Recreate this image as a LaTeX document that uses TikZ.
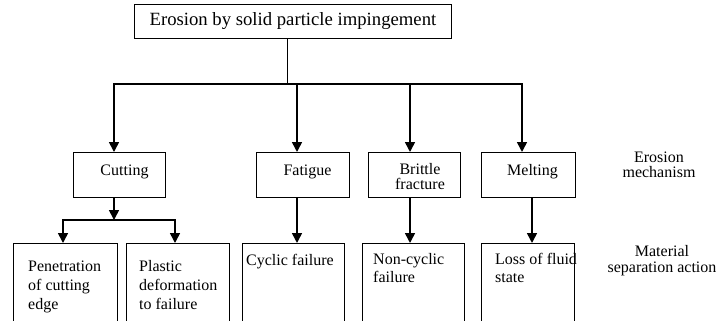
\documentclass[tikz,border=0pt]{standalone}
\usepackage{fontspec}
\setmainfont{Liberation Serif}
\usetikzlibrary{arrows.meta}
\begin{document}
\begin{tikzpicture}[x=1pt,y=-1pt,
  box/.style={draw,line width=0.9pt,inner sep=0pt,anchor=north west},
  lbl/.style={inner sep=0pt,font=\fontsize{16}{18.5}\selectfont},
  arr/.style={line width=1.6pt,-{Triangle[length=10pt,width=10pt]}},
  conn/.style={line width=1.4pt,line cap=rect}]
\useasboundingbox (0,0) rectangle (718,321);
\fill[white] (0,0) rectangle (718,321);
% top box
\node[box,minimum width=317pt,minimum height=34pt,font=\fontsize{18.7}{20}\selectfont] (top) at (134,4) {Erosion by solid particle impingement};
% mechanism boxes
\node[box,minimum width=92pt,minimum height=45pt] (cut) at (73,152) {};
\node[box,minimum width=93pt,minimum height=45pt] (fat) at (256,152) {};
\node[box,minimum width=92pt,minimum height=45pt] (bri) at (368,152) {};
\node[box,minimum width=94pt,minimum height=45pt] (mel) at (481,152) {};
% action boxes (run off the bottom edge)
\node[box,minimum width=104pt,minimum height=100pt] (pen) at (13,243) {};
\node[box,minimum width=103pt,minimum height=100pt] (pla) at (126,243) {};
\node[box,minimum width=102pt,minimum height=100pt] (cyc) at (242,243) {};
\node[box,minimum width=102pt,minimum height=100pt] (non) at (362,243) {};
\node[box,minimum width=93pt,minimum height=100pt] (los) at (481,243) {};
% texts (multi-line nodes: base = baseline of last line)
\node[lbl,anchor=base] (cutT) at (124.5,175) {Cutting};
\node[lbl,anchor=base] (fatT) at (307.5,175) {Fatigue};
\node[lbl,anchor=base,align=center,font=\fontsize{16}{15}\selectfont] (briT) at (420,189) {Brittle\\fracture};
\node[lbl,anchor=base] (melT) at (532.5,175) {Melting};
\node[lbl,anchor=base west,align=left,font=\fontsize{16}{19}\selectfont] (penT) at (28,309) {Penetration\\of cutting\\edge};
\node[lbl,anchor=base west,align=left,font=\fontsize{16}{19}\selectfont] (plaT) at (139,309) {Plastic\\deformation\\to failure};
\node[lbl,anchor=base west] (cycT) at (246,265) {Cyclic failure};
\node[lbl,anchor=base west,align=left,font=\fontsize{16}{18.5}\selectfont] (nonT) at (373,282.5) {Non-cyclic\\failure};
\node[lbl,anchor=base west,align=left,font=\fontsize{16}{18.5}\selectfont] (losT) at (495,282.5) {Loss of fluid\\state};
\node[lbl,anchor=base,align=center,font=\fontsize{16}{15}\selectfont] (mechL) at (659,177) {Erosion\\mechanism};
\node[lbl,anchor=base,align=center,font=\fontsize{16}{16.5}\selectfont] (sepL) at (662,272.5) {Material\\separation action};
% connectors from the top box
\coordinate (j) at (287,84);
\coordinate (hl) at (114,84);
\coordinate (h2) at (297,84);
\coordinate (h3) at (410,84);
\coordinate (hr) at (522,84);
\draw[line width=0.9pt] (top.south -| j) -- (j);
\draw[conn] (hl) -- (hr);
\draw[arr] (hl) -- (hl |- cut.north);
\draw[arr] (h2) -- (h2 |- fat.north);
\draw[arr] (h3) -- (h3 |- bri.north);
\draw[arr] (hr) -- (hr |- mel.north);
% cutting branch
\coordinate (c1) at (114,220);
\coordinate (cl) at (63,220);
\coordinate (cr) at (175,220);
\draw[arr] (cut.south -| c1) -- (c1);
\draw[conn] (cl) -- (cr);
\draw[arr] (cl) -- (cl |- pen.north);
\draw[arr] (cr) -- (cr |- pla.north);
% other branches
\coordinate (m2) at (532,197);
\draw[arr] (fat.south -| h2) -- (h2 |- cyc.north);
\draw[arr] (bri.south -| h3) -- (h3 |- non.north);
\draw[arr] (mel.south -| m2) -- (m2 |- los.north);
\end{tikzpicture}
\end{document}
